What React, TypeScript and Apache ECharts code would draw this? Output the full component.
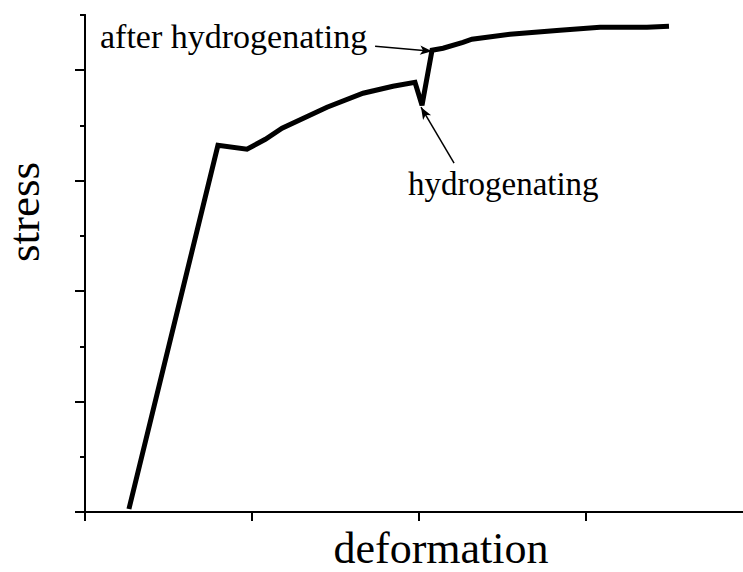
import React, { useEffect, useRef } from "react";
import * as echarts from "echarts";

const deformation = [0.263, 0.796, 0.97, 1.08, 1.18, 1.449, 1.665, 1.844, 1.976, 2.018, 2.078, 2.144, 2.263, 2.317, 2.545, 2.844, 3.084, 3.365, 3.497];
const stress = [0.027, 3.32, 3.285, 3.375, 3.475, 3.665, 3.792, 3.855, 3.891, 3.683, 4.181, 4.199, 4.253, 4.281, 4.326, 4.362, 4.389, 4.389, 4.398];

const xTicks = [0, 1, 2, 3];
const yMajorTicks = [0, 1, 2, 3, 4];
const yMinorTicks = [0.5, 1.5, 2.5, 3.5, 4.5];

const xTitle = "deformation";
const yTitle = "stress";
const afterLabel = "after hydrogenating";
const hydroLabel = "hydrogenating";

// arrows: [tailX, tailY, tipX, tipY] in data units
const afterArrow = [1.737, 4.217, 2.078, 4.172];
const hydroArrow = [2.21, 3.158, 2.012, 3.665];

const FONT = "'Times New Roman', 'Liberation Serif', serif";

export default function App() {
  const ref = useRef<HTMLDivElement>(null);
  useEffect(() => {
    if (!ref.current) return;
    const chart = echarts.init(ref.current, null, { renderer: "svg" });
    const black = "#000";
    const yBase = {
      type: "value",
      min: 0,
      max: 4.5,
      position: "left",
      offset: 0,
      axisLine: { show: true, onZero: false, lineStyle: { color: black, width: 2 } },
      axisLabel: { show: false },
      splitLine: { show: false },
    };
    chart.setOption({
      animation: false,
      backgroundColor: "#fff",
      grid: { left: 85, top: 15, right: 0, bottom: 60, containLabel: false },
      xAxis: {
        type: "value",
        min: 0,
        max: 4,
        interval: 1,
        axisLine: { show: true, onZero: false, lineStyle: { color: black, width: 2 } },
        axisTick: { show: true, length: 9, customValues: xTicks, lineStyle: { color: black, width: 2 } },
        axisLabel: { show: false },
        splitLine: { show: false },
      },
      yAxis: [
        {
          ...yBase,
          axisTick: { show: true, length: 10, customValues: yMajorTicks, lineStyle: { color: black, width: 2 } },
        },
        {
          ...yBase,
          axisTick: { show: true, length: 5, customValues: yMinorTicks, lineStyle: { color: black, width: 2 } },
        },
      ],
      series: [
        {
          type: "line",
          yAxisIndex: 0,
          data: deformation.map((d, i) => [d, stress[i]]),
          symbol: "none",
          lineStyle: { color: black, width: 5, join: "miter", cap: "butt" },
          markLine: {
            silent: true,
            symbol: ["none", "arrow"],
            symbolSize: [7, 12],
            label: { show: false },
            lineStyle: { color: black, width: 1.5, type: "solid" },
            data: [
              [{ coord: [afterArrow[0], afterArrow[1]] }, { coord: [afterArrow[2], afterArrow[3]] }],
              [{ coord: [hydroArrow[0], hydroArrow[1]] }, { coord: [hydroArrow[2], hydroArrow[3]] }],
            ],
          },
        },
      ],
      graphic: [
        {
          type: "text",
          x: 441,
          y: 548,
          style: { text: xTitle, font: `44px ${FONT}`, fill: black, align: "center", verticalAlign: "middle" },
        },
        {
          type: "text",
          x: 24,
          y: 212,
          rotation: Math.PI / 2,
          style: { text: yTitle, font: `45px ${FONT}`, fill: black, align: "center", verticalAlign: "middle" },
        },
        {
          type: "text",
          x: 100,
          y: 36,
          style: { text: afterLabel, font: `34px ${FONT}`, fill: black, align: "left", verticalAlign: "middle" },
        },
        {
          type: "text",
          x: 408,
          y: 184,
          style: { text: hydroLabel, font: `33px ${FONT}`, fill: black, align: "left", verticalAlign: "middle" },
        },
      ],
    });
    return () => chart.dispose();
  }, []);
  return (
    <div
      style={{ position: "absolute", left: 0, top: 0, width: 743, height: 572, overflow: "hidden", background: "#fff" }}
    >
      <div ref={ref} style={{ width: 753, height: 572 }} />
    </div>
  );
}
